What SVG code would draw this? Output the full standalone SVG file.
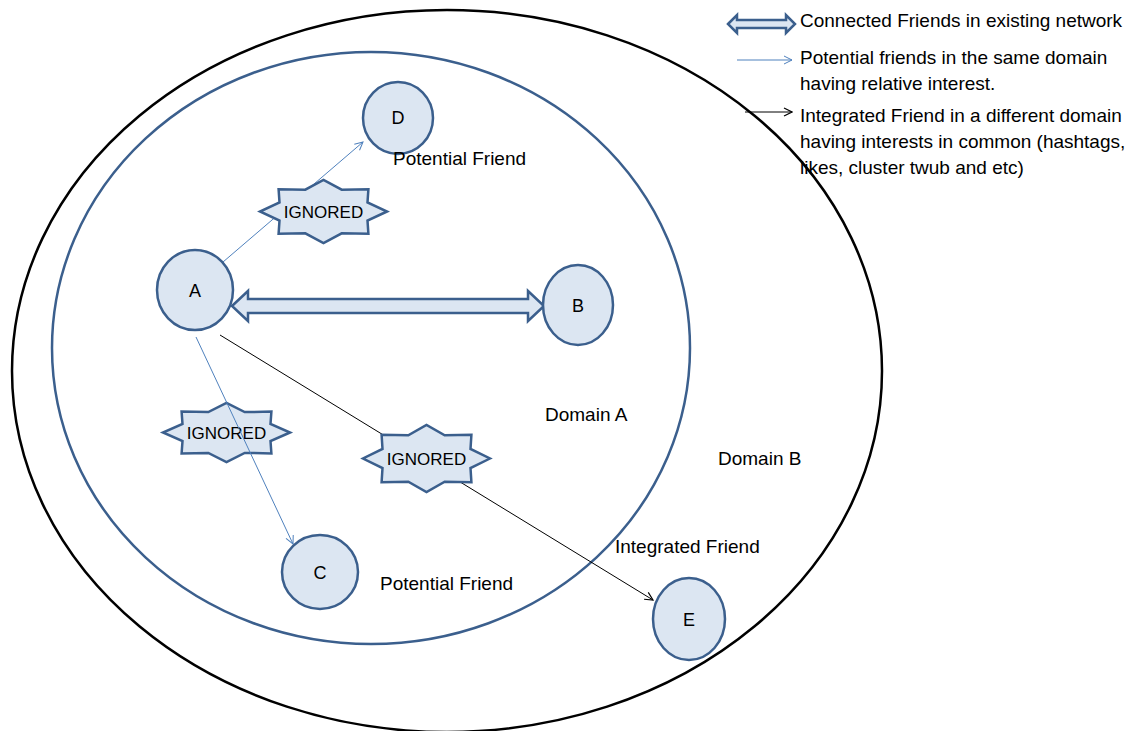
<svg xmlns="http://www.w3.org/2000/svg" width="1134" height="731" viewBox="0 0 1134 731">
<style>
text{font-family:"Liberation Sans",Arial,sans-serif;font-size:19px;fill:#000}
.node{fill:#dce6f2;stroke:#3b5f8d;stroke-width:2.5}
.lbl{text-anchor:middle;font-size:18px}
.star{fill:#dce6f2;stroke:#3b5f8d;stroke-width:2.5;stroke-linejoin:miter}
.st{font-size:17px;text-anchor:middle}
.blue{stroke:#4f81bd;stroke-width:1;fill:none}
.blk{stroke:#000;stroke-width:1;fill:none}
.dbl{fill:#dce6f2;stroke:#3b5f8d;stroke-width:2.5;stroke-linejoin:miter}
</style>
<defs>
<marker id="ab" viewBox="0 0 10 10" refX="9" refY="5" markerWidth="10" markerHeight="10" markerUnits="userSpaceOnUse" orient="auto"><path d="M1,1 L9,5 L1,9" fill="none" stroke="#4f81bd" stroke-width="1"/></marker>
<marker id="ak" viewBox="0 0 10 10" refX="9" refY="5" markerWidth="10" markerHeight="10" markerUnits="userSpaceOnUse" orient="auto"><path d="M1,1 L9,5 L1,9" fill="none" stroke="#000" stroke-width="1.2"/></marker>
</defs>
<rect width="1134" height="731" fill="#fff"/>
<g id="domainB"><ellipse cx="447" cy="371" rx="435" ry="361" fill="none" stroke="#000" stroke-width="2.5"/><text x="718" y="465">Domain B</text></g>
<g id="domainA"><ellipse cx="371" cy="348" rx="319" ry="296" fill="none" stroke="#3b5f8d" stroke-width="2.5"/><text x="545" y="421">Domain A</text></g>
<g id="ignored2"><polygon class="star" points="290,432.5 270.5,441 271.4,453.4 244.7,452.9 226.5,462 208.3,452.9 181.6,453.4 182.5,441 163,432.5 182.5,424 181.6,411.6 208.3,412.1 226.5,403 244.7,412.1 271.4,411.6 270.5,424"/><text class="st" x="226.5" y="438.5">IGNORED</text></g>
<g id="connectors">
<path class="blue" d="M223,262 L363,142" marker-end="url(#ab)"/>
<path class="blue" d="M196,337 L293,544" marker-end="url(#ab)"/>
<path class="blk" d="M220,335 L653,600" marker-end="url(#ak)"/>
<path class="dbl" d="M232,306 L248,291 L248,299 L528,299 L528,291 L544,306 L528,321 L528,313 L248,313 L248,321 Z"/>
</g>
<g id="ignored1"><polygon class="star" points="387,211.5 367.5,220.5 368.4,233.8 341.7,233.3 323.5,243 305.3,233.3 278.6,233.8 279.5,220.5 260,211.5 279.5,202.5 278.6,189.2 305.3,189.7 323.5,180 341.7,189.7 368.4,189.2 367.5,202.5"/><text class="st" x="323.5" y="218">IGNORED</text></g>
<g id="ignored3"><polygon class="star" points="490,458.5 470.5,468.1 471.4,482.2 444.7,481.7 426.5,492 408.3,481.7 381.6,482.2 382.5,468.1 363,458.5 382.5,448.9 381.6,434.8 408.3,435.3 426.5,425 444.7,435.3 471.4,434.8 470.5,448.9"/><text class="st" x="426.5" y="465">IGNORED</text></g>
<g id="nodeA"><ellipse class="node" cx="195" cy="290" rx="38" ry="40"/><text class="lbl" x="195" y="297">A</text></g>
<g id="nodeB"><ellipse class="node" cx="578" cy="305" rx="35" ry="40"/><text class="lbl" x="578" y="312">B</text></g>
<g id="nodeD"><ellipse class="node" cx="398" cy="118" rx="35" ry="36"/><text class="lbl" x="398" y="124">D</text><text x="393" y="165">Potential Friend</text></g>
<g id="nodeC"><ellipse class="node" cx="320" cy="572" rx="38" ry="37"/><text class="lbl" x="320" y="579">C</text><text x="380" y="590">Potential Friend</text></g>
<g id="nodeE"><ellipse class="node" cx="689" cy="619" rx="36" ry="41"/><text class="lbl" x="689" y="626">E</text><text x="615" y="553">Integrated Friend</text></g>
<g id="legend">
<path class="dbl" stroke-width="2" d="M728,24 L737,15 L737,20 L786,20 L786,15 L795,24 L786,33 L786,28 L737,28 L737,33 Z"/>
<path class="blue" d="M737,60 L792,60" marker-end="url(#ab)"/>
<path class="blk" stroke-width="1.5" d="M745,112 L792,112" marker-end="url(#ak)"/>
<text x="800" y="27">Connected Friends in existing network</text>
<text x="800" y="64">Potential friends in the same domain</text>
<text x="800" y="90">having relative interest.</text>
<text x="800" y="122">Integrated Friend in a different domain</text>
<text x="800" y="148">having interests in common (hashtags,</text>
<text x="800" y="174">likes, cluster twub and etc)</text>
</g>
</svg>
